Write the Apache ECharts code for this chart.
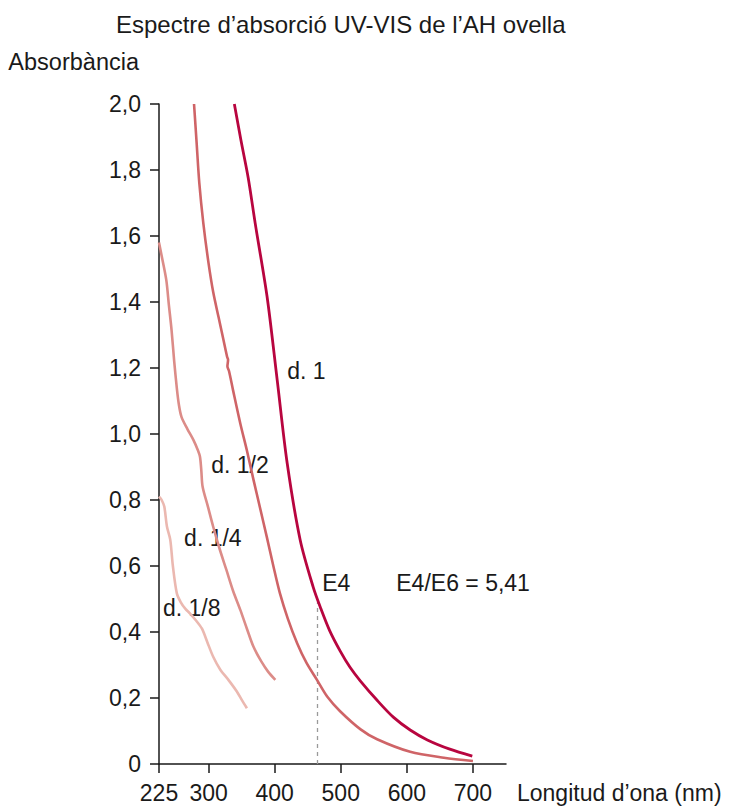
<!DOCTYPE html>
<html>
<head>
<meta charset="utf-8">
<script src="https://cdn.jsdelivr.net/npm/echarts@6/dist/echarts.min.js"></script>
<style>
html,body{margin:0;padding:0;background:#fff;}
#chart{width:739px;height:806px;}
</style>
</head>
<body>
<div id="chart"></div>
<script>
// ---- data ----
var xTicks = [225, 300, 400, 500, 600, 700];
var yTicks = [0, 0.2, 0.4, 0.6, 0.8, 1.0, 1.2, 1.4, 1.6, 1.8, 2.0];
var seriesNames = ['d. 1', 'd. 1/2', 'd. 1/4', 'd. 1/8'];
var d1 = [[339,2.0],[349,1.89],[360,1.776],[370.5,1.639],[388.6,1.415],[403.8,1.164],[418.9,0.912],[438.6,0.679],[458.3,0.536],[468.9,0.476],[483,0.405],[499.2,0.342],[514,0.293],[529.5,0.252],[555,0.193],[579.5,0.142],[605,0.103],[631,0.073],[665,0.045],[699,0.024]];
var d2 = [[278,2.0],[282,1.88],[286,1.76],[292,1.64],[300,1.517],[307,1.43],[315,1.355],[322,1.29],[328,1.234],[329.5,1.225],[328.5,1.205],[331,1.19],[337,1.133],[348,1.032],[358,0.95],[368,0.861],[378,0.775],[388,0.689],[398,0.60],[408,0.517],[420,0.44],[434,0.366],[448,0.307],[464,0.255],[480,0.203],[499,0.16],[530,0.105],[555,0.075],[605,0.037],[656,0.019],[700,0.009]];
var d4 = [[225,1.58],[229,1.54],[236,1.467],[240,1.39],[244,1.315],[248,1.22],[252,1.138],[255,1.09],[259,1.052],[268,1.015],[277,0.982],[284,0.95],[287,0.931],[289,0.89],[291,0.84],[299,0.78],[307,0.719],[317,0.65],[327,0.588],[337,0.525],[348,0.467],[358,0.41],[368,0.355],[380,0.31],[390,0.28],[401,0.255]];
var d8 = [[225,0.81],[229,0.80],[233,0.78],[237,0.72],[242,0.68],[246,0.60],[252,0.517],[258,0.49],[265,0.47],[272,0.456],[281,0.435],[290,0.41],[298,0.37],[307,0.325],[318,0.285],[330,0.255],[343,0.219],[350,0.195],[358,0.169]];
var e4Wavelength = 465;
var e4Value = 0.49;
var ratioText = 'E4/E6 = 5,41';
// annotation anchors (data coordinates)
var annotations = [
  {text: 'd. 1', x: 419, y: 1.19},
  {text: 'd. 1/2', x: 304, y: 0.906},
  {text: 'd. 1/4', x: 263, y: 0.685},
  {text: 'd. 1/8', x: 231, y: 0.473},
  {text: 'E4', x: 472, y: 0.548},
  {text: ratioText, x: 584, y: 0.548}
];

var FONT = '"Liberation Sans", Arial, sans-serif';
var TXT = '#1a1a1a';
var colors = ['#b8053f', '#cf6467', '#dc8c88', '#ebb8b0'];
var chart = echarts.init(document.getElementById('chart'), null, {renderer: 'svg'});
var dataSets = [d1, d2, d4, d8];

var series = dataSets.map(function (d, i) {
  var s = {
    name: seriesNames[i],
    type: 'line',
    data: d,
    showSymbol: false,
    smooth: 0.3,
    lineStyle: {color: colors[i], width: i === 0 ? 2.8 : 2.6},
    itemStyle: {color: colors[i]},
    silent: true,
    z: 3
  };
  if (i === 0) {
    s.markLine = {
      silent: true,
      symbol: ['none', 'none'],
      label: {show: false},
      lineStyle: {type: [4, 4], color: '#9a9a9a', width: 1.3},
      data: [[{coord: [e4Wavelength, 0]}, {coord: [e4Wavelength, e4Value]}]],
      z: 1
    };
  }
  return s;
});

chart.setOption({
  animation: false,
  backgroundColor: '#fff',
  title: {
    text: 'Espectre d\u2019absorció UV-VIS de l\u2019AH ovella',
    left: 111, top: 7,
    textStyle: {fontFamily: FONT, fontSize: 24, fontWeight: 'normal', color: TXT}
  },
  grid: {left: 159, top: 104, right: 233, bottom: 42, containLabel: false},
  xAxis: {
    type: 'value', min: 225, max: 750,
    name: 'Longitud d\u2019ona (nm)',
    nameLocation: 'end', nameGap: 11,
    nameTextStyle: {fontFamily: FONT, fontSize: 23, color: TXT, verticalAlign: 'top', padding: [17, 0, 0, 0]},
    axisLine: {show: true, lineStyle: {color: '#1a1a1a', width: 1.5}},
    axisTick: {show: true, length: 9, customValues: xTicks, lineStyle: {color: '#1a1a1a', width: 1.5}},
    axisLabel: {customValues: xTicks, margin: 17, fontFamily: FONT, fontSize: 23, color: TXT},
    splitLine: {show: false}
  },
  yAxis: {
    type: 'value', min: 0, max: 2, interval: 0.2,
    name: 'Absorbància',
    nameLocation: 'end', nameGap: 30,
    nameTextStyle: {fontFamily: FONT, fontSize: 23.5, color: TXT, align: 'right', padding: [0, 20, 0, 0]},
    axisLine: {show: true, lineStyle: {color: '#1a1a1a', width: 1.5}},
    axisTick: {show: true, length: 9, lineStyle: {color: '#1a1a1a', width: 1.5}},
    axisLabel: {
      margin: 18, fontFamily: FONT, fontSize: 23, color: TXT,
      formatter: function (v) { return v === 0 ? '0' : v.toFixed(1).replace('.', ','); }
    },
    splitLine: {show: false}
  },
  series: series
});

var g = annotations.map(function (a) {
  var p = chart.convertToPixel({gridIndex: 0}, [a.x, a.y]);
  return {
    type: 'text', x: p[0], y: p[1], silent: true,
    style: {text: a.text, fill: TXT, font: '23px ' + FONT, verticalAlign: 'middle', align: 'left'}
  };
});
chart.setOption({graphic: g});
</script>
</body>
</html>
